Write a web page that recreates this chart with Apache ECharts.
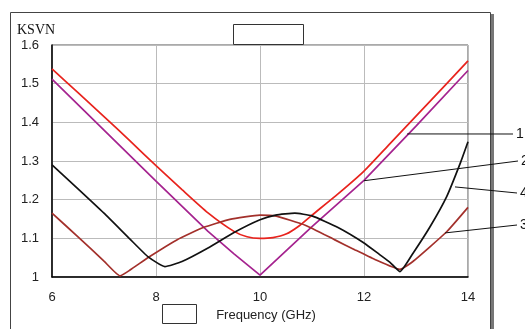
<!DOCTYPE html>
<html>
<head>
<meta charset="utf-8">
<script src="https://cdn.jsdelivr.net/npm/echarts@6/dist/echarts.min.js"></script>
<style>
  html, body { margin: 0; padding: 0; background: #fff; }
  #main { width: 525px; height: 329px; }
</style>
</head>
<body>
<div id="main"></div>
<script>
// curve 1 (red)
var freq1 = [6, 6.5, 7, 7.5, 8, 8.5, 9, 9.5, 9.75, 10, 10.25, 10.5, 10.75, 11, 11.5, 12, 12.5, 13, 13.5, 14];
var ksvn1 = [1.538, 1.477, 1.415, 1.352, 1.288, 1.226, 1.166, 1.118, 1.104, 1.100, 1.102, 1.111, 1.132, 1.160, 1.215, 1.274, 1.345, 1.416, 1.487, 1.559];
// curve 2 (purple)
var freq2 = [6, 7, 8, 9, 9.5, 10, 11, 12, 13, 14];
var ksvn2 = [1.512, 1.38, 1.248, 1.118, 1.06, 1.005, 1.13, 1.25, 1.39, 1.534];
// curve 3 (brown)
var freq3 = [6, 6.5, 7, 7.31, 7.5, 7.88, 8.4, 8.91, 9.42, 10, 10.29, 10.87, 11.44, 11.83, 12.2, 12.69, 12.94, 13.59, 14];
var ksvn3 = [1.165, 1.104, 1.041, 1.003, 1.018, 1.053, 1.096, 1.128, 1.149, 1.160, 1.158, 1.134, 1.096, 1.070, 1.046, 1.020, 1.040, 1.117, 1.180];
// curve 4 (black)
var freq4 = [6, 6.5, 7, 7.5, 7.85, 8.17, 8.5, 9, 9.5, 10, 10.3, 10.67, 11, 11.5, 12, 12.3, 12.5, 12.69, 12.94, 13.27, 13.59, 13.85, 14];
var ksvn4 = [1.290, 1.228, 1.165, 1.098, 1.052, 1.027, 1.040, 1.075, 1.115, 1.148, 1.160, 1.165, 1.158, 1.128, 1.088, 1.058, 1.038, 1.014, 1.061, 1.130, 1.208, 1.294, 1.350];

var curveNames = ['1', '2', '3', '4'];
var curveColors = ['#e8231d', '#a5238f', '#a3302b', '#111111'];
var curveSmooth = [0.2, false, 0.15, 0.15];

// leader lines: anchor on the curve [freq, ksvn], label text
var leaderAnchors = [[12.83, 1.37], [12, 1.249], [13.56, 1.114], [13.75, 1.233]];
var leaderLabels = ['1', '2', '3', '4'];

function zip(xs, ys) {
  var out = [];
  for (var i = 0; i < xs.length; i++) out.push([xs[i], ys[i]]);
  return out;
}

var chart = echarts.init(document.getElementById('main'), null, { renderer: 'canvas' });

var allData = [zip(freq1, ksvn1), zip(freq2, ksvn2), zip(freq3, ksvn3), zip(freq4, ksvn4)];
var series = [];
for (var i = 0; i < allData.length; i++) {
  series.push({
    name: curveNames[i],
    type: 'line',
    data: allData[i],
    smooth: curveSmooth[i],
    showSymbol: false,
    clip: true,
    lineStyle: { color: curveColors[i], width: 1.7 },
    z: 3
  });
}

var option = {
  animation: false,
  textStyle: { fontFamily: 'Liberation Sans' },
  grid: {
    left: 52, top: 45, width: 416, height: 232,
    show: true, borderColor: '#555', borderWidth: 1
  },
  xAxis: {
    type: 'value',
    min: 6, max: 14, interval: 2,
    name: 'Frequency (GHz)',
    nameLocation: 'middle',
    nameGap: 29,
    nameTextStyle: { fontSize: 13, color: '#222', padding: [0, 0, 0, 12] },
    axisLine: { lineStyle: { color: '#000', width: 1.5 } },
    axisTick: { show: false },
    axisLabel: { fontSize: 13, color: '#222', margin: 14 },
    splitLine: { lineStyle: { color: '#bbbbbb' } }
  },
  yAxis: {
    type: 'value',
    min: 1, max: 1.6, interval: 0.1,
    axisLine: { show: true, lineStyle: { color: '#000', width: 1.5 } },
    axisTick: { show: false },
    axisLabel: { fontSize: 13, color: '#222', margin: 13 },
    splitLine: { lineStyle: { color: '#bbbbbb' } }
  },
  series: series
};
chart.setOption(option);

// frame, boxes and leader lines
var ends = [[513, 134], [518, 161], [517, 225], [517, 193]];
var graphics = [
  { type: 'rect', shape: { x: 491, y: 14, width: 3, height: 330 }, style: { fill: '#777' }, z: 0 },
  { type: 'rect', shape: { x: 10.5, y: 12.5, width: 480, height: 330 }, style: { fill: 'none', stroke: '#444', lineWidth: 1 }, z: 1 },
  { type: 'rect', shape: { x: 233.5, y: 24.5, width: 70, height: 20 }, style: { fill: '#fff', stroke: '#333', lineWidth: 1 }, z: 1 },
  { type: 'rect', shape: { x: 162.5, y: 304.5, width: 34, height: 19 }, style: { fill: '#fff', stroke: '#333', lineWidth: 1 }, z: 1 },
  { type: 'text', left: 17, top: 23, style: { text: 'KSVN', font: '14px "Liberation Serif"', fill: '#111' }, z: 2 }
];
for (var k = 0; k < leaderAnchors.length; k++) {
  var p = chart.convertToPixel({ gridIndex: 0 }, leaderAnchors[k]);
  graphics.push({
    type: 'line',
    shape: { x1: p[0], y1: p[1], x2: ends[k][0], y2: ends[k][1] },
    style: { stroke: '#111', lineWidth: 1 },
    z: 5
  });
  graphics.push({
    type: 'text',
    x: ends[k][0] + 3, y: ends[k][1],
    style: { text: leaderLabels[k], font: '14px "Liberation Sans"', fill: '#111', verticalAlign: 'middle' },
    z: 5
  });
}
chart.setOption({ graphic: graphics });
</script>
</body>
</html>
